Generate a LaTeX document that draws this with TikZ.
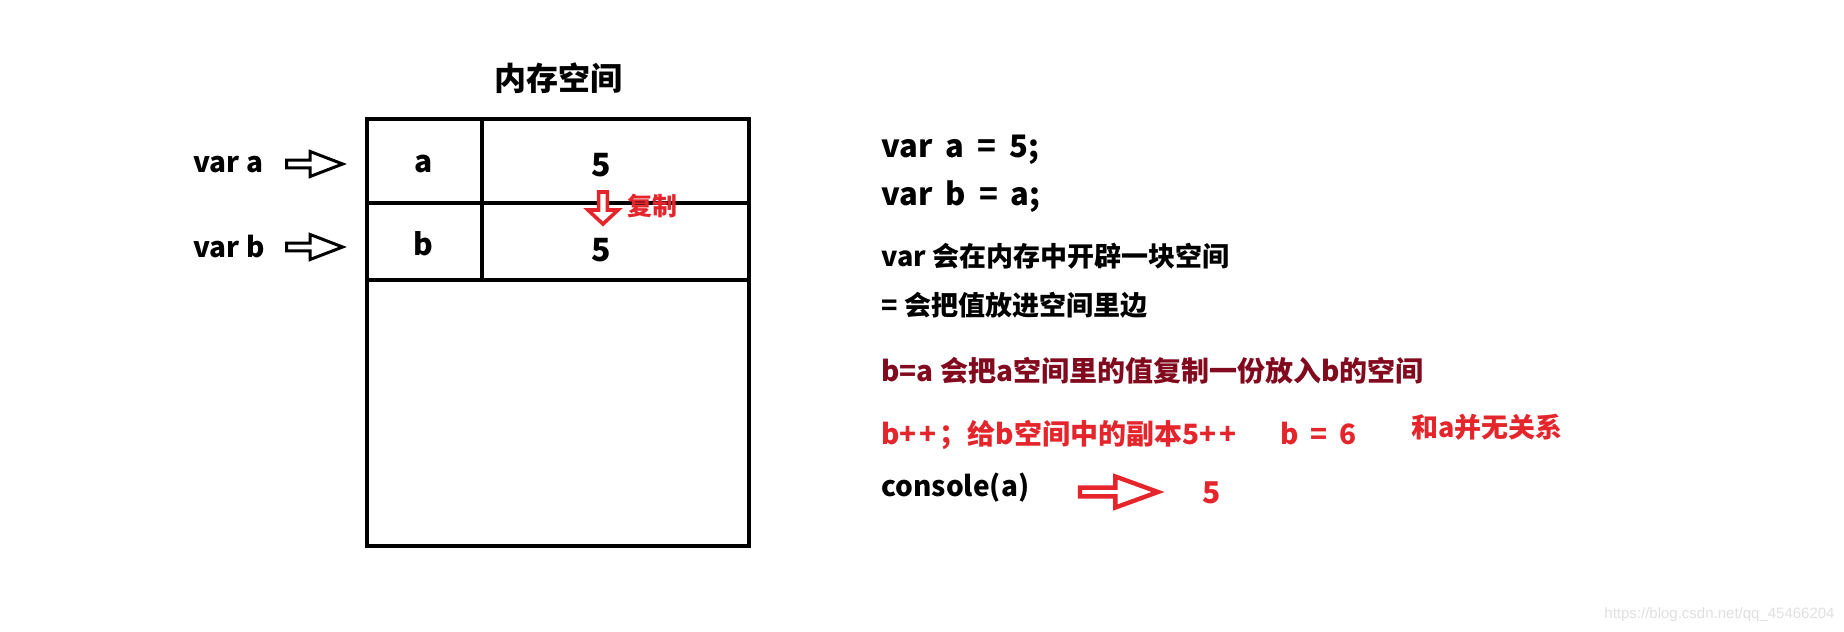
\documentclass[tikz,border=0pt]{standalone}
\usepackage{fontspec}
\setmainfont{Noto Sans CJK SC}
\newfontfamily\urlfont{Liberation Sans}
\usetikzlibrary{positioning, shapes.arrows}
\definecolor{codered}{RGB}{228,38,44}
\definecolor{notered}{RGB}{130,10,30}
\newcommand{\fsz}[1]{\fontsize{#1}{#1}\selectfont\bfseries}
\newcommand{\gap}{\hspace{0.42em}}

\begin{document}
\begin{tikzpicture}[
    x=0.5pt, y=-0.5pt,
    cell/.style={rectangle, draw=black, line width=2pt, outer sep=0pt, inner sep=0pt},
    txt/.style={inner sep=0pt, anchor=base west, font=\fsz{13.5pt}},
    ptr/.style={single arrow, draw=black, line width=1.5pt, inner sep=0pt, minimum height=28pt, minimum width=12.5pt, single arrow head extend=1.6pt, single arrow tip angle=42},
    redptr/.style={single arrow, draw=codered, fill=white, inner sep=0pt}
]

    % --- Canvas ---
    \fill[white] (0,0) rectangle (1844,632);
    \useasboundingbox (0,0) rectangle (1844,632);

    % --- Memory table ---
    \node[cell, minimum width=57.5pt, minimum height=42pt] (namea) at (424.5,161) {};
    \node[cell, minimum width=133.5pt, minimum height=42pt, right=0pt of namea] (vala) {};
    \node[cell, minimum width=57.5pt, minimum height=38.5pt, below=0pt of namea] (nameb) {};
    \node[cell, minimum width=133.5pt, minimum height=38.5pt, right=0pt of nameb] (valb) {};
    \node[cell, minimum width=191pt, minimum height=133pt, anchor=north west] (rest) at (nameb.south west) {};

    \node[txt, font=\fsz{16pt}, anchor=base] (memtitle) at (558,90) {内存空间};
    \node[txt, font=\fsz{15pt}, anchor=base] (labela) at (424,172) {a};
    \node[txt, font=\fsz{15pt}, anchor=base] (labelb) at (423,255) {b};
    \node[txt, font=\fsz{16pt}, anchor=base] (fivea) at (601,176) {5};
    \node[txt, font=\fsz{16pt}, anchor=base] (fiveb) at (601,261) {5};

    % Copy marker
    \node[redptr, line width=1.8pt, rotate=-90, minimum height=16pt, minimum width=15pt, single arrow head extend=2.2pt, single arrow tip angle=94] (copyptr) at (603,206) {};
    \node[txt, font=\fsz{12.5pt}, text=codered] (copytxt) at (627,215) {复制};

    % --- Variable pointers ---
    \node[txt, font=\fsz{14pt}] (vara) at (193,172) {var a};
    \node[txt, font=\fsz{14pt}] (varb) at (193,257) {var b};
    \node[ptr] (ptra) at (309.5,164) {};
    \node[ptr] (ptrb) at (309.5,247) {};

    % --- Notes ---
    \node[txt, font=\fsz{15.5pt}] (codea) at (881,157) {var\gap a\gap =\gap 5;};
    \node[txt, font=\fsz{15.5pt}] (codeb) at (881,205) {var\gap b\gap =\gap a;};
    \node[txt] (notevar) at (881,266) {var 会在内存中开辟一块空间};
    \node[txt] (noteeq) at (881,315) {= 会把值放进空间里边};
    \node[txt, font=\fsz{14pt}, text=notered] (notecopy) at (881,381) {b=a 会把a空间里的值复制一份放入b的空间};
    \node[txt, font=\fsz{14pt}, text=codered] (noteincr) at (881,444) {b+\kern1.5pt+\kern1.5pt；给b空间中的副本5+\kern1.5pt+};
    \node[txt, font=\fsz{14pt}, text=codered] (bsix) at (1280,444) {b\gap =\gap 6};
    \node[txt, text=codered] (norel) at (1411,437) {和a并无关系};

    % Console result
    \node[txt, font=\fsz{14pt}] (console) at (881,496) {console(a)};
    \node[redptr, line width=2.2pt, minimum height=39pt, minimum width=15.5pt, single arrow head extend=2.8pt, single arrow tip angle=40] (ptrc) at (1113,492) {};
    \node[txt, font=\fsz{15pt}, text=codered, anchor=base] (result) at (1212,503) {5};

    % Watermark
    \node[inner sep=0pt, anchor=base east, font=\urlfont\fontsize{7.5pt}{7.5pt}\selectfont, text=black!12] (csdn) at (1835,618) {https://blog.csdn.net/qq\_45466204};

\end{tikzpicture}
\end{document}
